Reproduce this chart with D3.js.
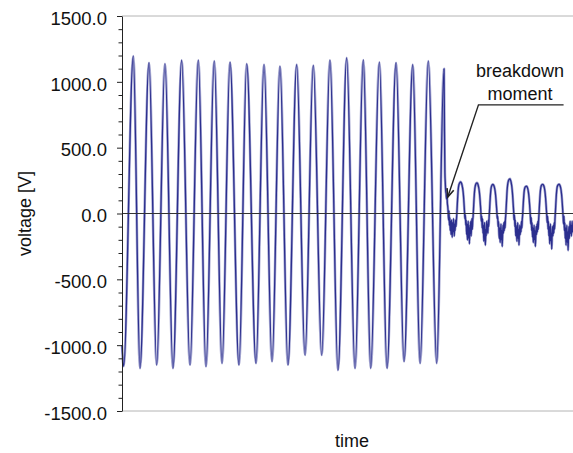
<!DOCTYPE html>
<html>
<head>
<meta charset="utf-8">
<script src="https://cdn.jsdelivr.net/npm/d3@7"></script>
<style>
  html, body { margin: 0; padding: 0; background: #fff; }
  svg { display: block; font-family: "Liberation Sans", Arial, sans-serif; }
</style>
</head>
<body>
<svg id="chart" width="573" height="453"></svg>
<script>
// ---------------- DATA ----------------
// time axis in ms (50 Hz supply), voltage in V
const timeDomain = [0, 551];
const voltDomain = [-1500, 1500];
const majorTicks = [-1500, -1000, -500, 0, 500, 1000, 1500];
const minorTicks = d3.range(-1500, 1501, 100).filter(v => v % 500 !== 0);
const yLabel = "voltage [V]";
const xLabel = "time";
const annotationLines = ["breakdown", "moment"];

// before breakdown: extremes (peaks / troughs) of the supply voltage
const preTimes = [0, 2.0, 13.8, 22.0, 33.0, 42.4, 52.5, 62.3, 72.9, 83.1, 93.2,
  102.6, 112.7, 122.2, 132.0, 142.9, 152.4, 163.7, 173.5, 183.3, 193.0,
  202.8, 213.4, 223.6, 233.7, 244.0, 254.1, 263.9, 274.5, 284.7, 294.8,
  303.9, 314.4, 323.8, 334.8, 344.6, 355.2, 364.2, 374.2, 384.5, 393.4];
const preVolts = [-1000, -1160, 1196, -1175, 1145, -1150, 1137, -1175, 1164, -1150, 1164,
  -1162, 1157, -1137, 1149, -1150, 1137, -1137, 1131, -1124, 1118,
  -1150, 1131, -1075, 1124, -1075, 1164, -1190, 1182, -1175, 1166,
  -1175, 1149, -1175, 1145, -1124, 1131, -1137, 1157, -1137, 1099];

// after breakdown: samples every 0.5 ms starting at 394.0 ms
const postStart = 394.0;
const postStep = 0.5;
const postVolts = [
  620, 310, 230, 170, 150, 110, 140, 80, 50, 10, -50, 20, -90, -30, -130, -60, -160, -50, -110, -180,
  -70, -140, -40, -110, -170, -80, -130, -50, -100, -60,
  -10, 50, 110, 160, 195, 215, 225, 232, 236, 240, 238, 233, 226, 214, 198, 178, 150, 110, 60, 10,
  -40, -10, -90, -50, -160, -80, -200, -120, -60, -190, -110, -230, -90, -150, -60, -170, -100, -40, -120, -50,
  -20, 40, 100, 150, 185, 205, 218, 226, 230, 233, 232, 226, 218, 205, 190, 168, 138, 100, 55, 5,
  -60, -20, -110, -40, -150, -90, -210, -130, -70, -180, -240, -120, -170, -60, -140, -90, -150, -50, -100, -30,
  20, 80, 130, 170, 195, 208, 215, 219, 221, 220, 216, 209, 199, 184, 164, 135, 98, 55, 10, -40,
  -20, -100, -60, -140, -190, -110, -220, -150, -80, -200, -130, -250, -160, -90, -150, -70, -130, -60, -110, -40,
  0, 60, 120, 175, 210, 232, 246, 254, 259, 262, 263, 257, 248, 234, 215, 190, 158, 115, 65, 15,
  -50, -10, -100, -50, -170, -90, -130, -210, -140, -70, -190, -120, -240, -150, -90, -160, -100, -140, -60, -110, -50,
  -10, 45, 100, 145, 175, 192, 200, 204, 206, 207, 206, 201, 193, 181, 163, 138, 105, 65, 20, -30,
  -80, -30, -130, -70, -180, -110, -220, -150, -90, -200, -130, -250, -170, -100, -160, -80, -140, -60, -120, -50,
  0, 60, 115, 160, 190, 206, 214, 218, 220, 221, 220, 215, 207, 195, 177, 152, 118, 75, 28, -20,
  -70, -20, -120, -60, -170, -100, -230, -140, -80, -210, -150, -270, -160, -100, -170, -90, -150, -70, -120, -40,
  10, 70, 125, 168, 195, 208, 215, 219, 221, 222, 220, 214, 205, 192, 174, 148, 112, 68, 20, -30,
  -80, -20, -130, -70, -190, -110, -240, -150, -90, -220, -140, -280, -170, -100, -190, -120, -60, -150, -90, -170,
  -110, -60, -140, -100
];

// annotation anchor (time, voltage) of the arrow tip and of the label elbow
const arrowTip = [398.0, 125];
const arrowElbow = [435.5, 825];
const underlineEnd = [539.5, 825];

// ---------------- CHART ----------------
const svg = d3.select("#chart");
const x = d3.scaleLinear().domain(timeDomain).range([122, 573]);
const y = d3.scaleLinear().domain(voltDomain).range([411, 16]);

const series = preTimes.map((t, i) => ({ t, v: preVolts[i] }))
  .concat(postVolts.map((v, i) => ({ t: postStart + i * postStep, v })));

// frame lines (top / bottom, grey)
svg.append("line").attr("x1", 122).attr("x2", 573).attr("y1", y(1500)).attr("y2", y(1500))
  .attr("stroke", "#b4b4b4").attr("stroke-width", 1);
svg.append("line").attr("x1", 122).attr("x2", 573).attr("y1", y(-1500)).attr("y2", y(-1500))
  .attr("stroke", "#b4b4b4").attr("stroke-width", 1);

// waveform (light halo + dark core, as in the scanned original)
const line = d3.line().x(d => x(d.t)).y(d => y(d.v)).curve(d3.curveMonotoneX);
svg.append("path").datum(series)
  .attr("d", line)
  .attr("fill", "none")
  .attr("stroke", "#a3a5d0")
  .attr("stroke-width", 2.6)
  .attr("stroke-linejoin", "round");
svg.append("path").datum(series)
  .attr("d", line)
  .attr("fill", "none")
  .attr("stroke", "#2b2e8e")
  .attr("stroke-width", 1.3)
  .attr("stroke-linejoin", "round");

// zero line
svg.append("line").attr("x1", 122).attr("x2", 573).attr("y1", y(0)).attr("y2", y(0))
  .attr("stroke", "#333").attr("stroke-width", 1.1);

// y axis
const gMinor = svg.append("g").attr("transform", "translate(122,0)")
  .call(d3.axisLeft(y).tickValues(minorTicks).tickSize(3.5).tickSizeOuter(0).tickFormat(""));
gMinor.select(".domain").remove();
const gMajor = svg.append("g").attr("transform", "translate(122,0)")
  .call(d3.axisLeft(y).tickValues(majorTicks).tickSize(5).tickSizeOuter(0).tickPadding(10)
    .tickFormat(d => d.toFixed(1)));
svg.selectAll(".tick line").attr("stroke", "#222");
gMajor.select(".domain").attr("stroke", "#222");
gMajor.selectAll("text").attr("font-size", "18.5px").attr("fill", "#111")
  .attr("font-family", "'Liberation Sans', Arial, sans-serif").attr("dy", "0.45em");

// axis titles
svg.append("text").attr("transform", `translate(31,${y(0)}) rotate(-90)`)
  .attr("text-anchor", "middle").attr("font-size", "18px").attr("fill", "#111").text(yLabel);
svg.append("text").attr("x", 352).attr("y", 447)
  .attr("text-anchor", "middle").attr("font-size", "18px").attr("fill", "#111").text(xLabel);

// annotation
svg.append("text").attr("x", 520).attr("y", 77).attr("text-anchor", "middle")
  .attr("font-size", "18px").attr("fill", "#111").text(annotationLines[0]);
svg.append("text").attr("x", 520).attr("y", 100).attr("text-anchor", "middle")
  .attr("font-size", "18px").attr("fill", "#111").text(annotationLines[1]);

const tip = [x(arrowTip[0]), y(arrowTip[1])];
const elbow = [x(arrowElbow[0]), y(arrowElbow[1])];
const uEnd = [x(underlineEnd[0]), y(underlineEnd[1])];
svg.append("path")
  .attr("d", `M${uEnd[0]},${uEnd[1]}L${elbow[0]},${elbow[1]}L${tip[0]},${tip[1]}`)
  .attr("fill", "none").attr("stroke", "#222").attr("stroke-width", 1.4);
// arrow head
const ang = Math.atan2(tip[1] - elbow[1], tip[0] - elbow[0]);
const hl = 9, ha = 0.4;
const p1 = [tip[0] - hl * Math.cos(ang - ha), tip[1] - hl * Math.sin(ang - ha)];
const p2 = [tip[0] - hl * Math.cos(ang + ha), tip[1] - hl * Math.sin(ang + ha)];
svg.append("path")
  .attr("d", `M${p1[0]},${p1[1]}L${tip[0]},${tip[1]}L${p2[0]},${p2[1]}`)
  .attr("fill", "none").attr("stroke", "#222").attr("stroke-width", 1.6);
</script>
</body>
</html>
